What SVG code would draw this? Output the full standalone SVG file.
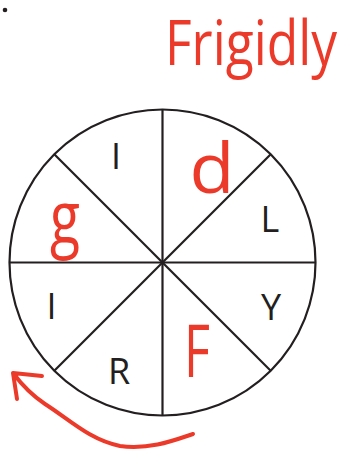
<svg xmlns="http://www.w3.org/2000/svg" width="349" height="451" viewBox="0 0 349 451">
<style>
.ln{stroke:#231f20;stroke-width:2.2;fill:none}
.lt{font-family:"Open Sans","Liberation Sans",sans-serif;font-size:36px;font-weight:500;fill:#231f20;text-anchor:middle}
.rd{font-family:"Open Sans","Liberation Sans",sans-serif;font-weight:400;fill:#ec3a2a;text-anchor:middle}
.arr{stroke:#ec3a2a;stroke-width:4;fill:none;stroke-linecap:round;stroke-linejoin:round}
</style>
<rect width="349" height="451" fill="#ffffff"/>
<circle cx="5" cy="10" r="2.3" fill="#231f20"/>
<g id="title" transform="translate(251,65) scale(1,1.2)"><text class="rd" x="0" y="0" font-size="52" textLength="172" lengthAdjust="spacingAndGlyphs">Frigidly</text></g>
<g id="wheel">
<circle class="ln" cx="162.5" cy="262.5" r="153"/>
</g>
<g id="connectors">
<line class="ln" x1="162.5" y1="109.5" x2="162.5" y2="415.5"/>
<line class="ln" x1="9.5" y1="262.5" x2="315.5" y2="262.5"/>
<line class="ln" x1="54.3" y1="154.3" x2="270.7" y2="370.7"/>
<line class="ln" x1="270.7" y1="154.3" x2="54.3" y2="370.7"/>
<path class="arr" d="M193,434 C175,440 150,450 120,446 C90,440 70,420 45,404 C30,394 22,385 13,373 M13,373 L42,376 M13,373 L17,399"/>
</g>
<g id="s-I1"><text class="lt" x="116" y="169">I</text></g>
<g id="s-d"><text class="rd" x="212" y="193" font-size="70" textLength="45" lengthAdjust="spacingAndGlyphs">d</text></g>
<g id="s-L"><text class="lt" x="270" y="232">L</text></g>
<g id="s-Y"><text class="lt" x="271" y="320">Y</text></g>
<g id="s-F"><text class="rd" x="197" y="377" font-size="74" textLength="26" lengthAdjust="spacingAndGlyphs">F</text></g>
<g id="s-R"><text class="lt" x="119" y="384">R</text></g>
<g id="s-I2"><text class="lt" x="51.5" y="319">I</text></g>
<g id="s-g"><text class="rd" x="65" y="243" font-size="73" textLength="30" lengthAdjust="spacingAndGlyphs">g</text></g>
</svg>
